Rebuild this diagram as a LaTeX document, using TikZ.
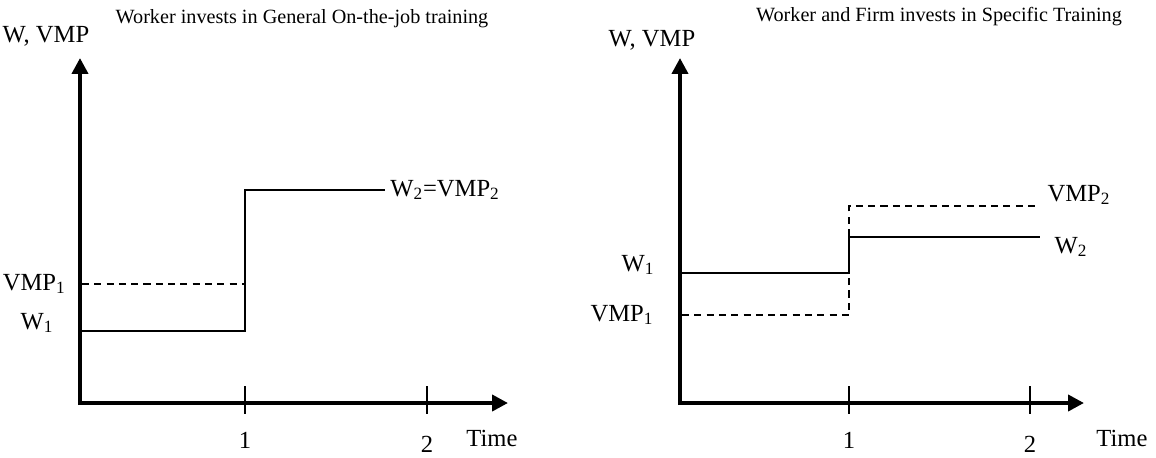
\documentclass[tikz,border=0pt]{standalone}
\usepackage{fontspec}
\setmainfont{Liberation Serif}
\usetikzlibrary{arrows.meta}
\tikzset{
  axis/.style={line width=2.2pt,-{Triangle[length=9pt,width=9pt]}},
  tick/.style={line width=0.8pt},
  wage/.style={line width=0.8pt},
  vmp/.style={line width=0.8pt,dashed,dash pattern=on 4pt off 3pt},
  lbl/.style={font=\fontsize{14}{16}\selectfont,inner sep=0pt},
  ttl/.style={font=\fontsize{11.5}{13}\selectfont,inner sep=0pt}
}
\begin{document}
\begin{tikzpicture}[x=0.02cm,y=-0.02cm]
\useasboundingbox (0,0) rectangle (1156,457);
% general training
\node[ttl] (ttlA) at (302,19) {Worker invests in General On-the-job training};
\node[lbl] (yA) at (46,36) {W, VMP};
\draw[axis] (80,405)--(80,58);
\draw[axis] (78,403)--(508,403);
\foreach \x/\t/\y in {245/1/440,427/2/444}{
\draw[tick] (\x,386)--(\x,414);
\node[lbl] at (\x,\y) {\t};
}
\node[lbl] (timeA) at (492,438) {Time};
\draw[vmp] (82,284)--(245,284);
\draw[wage] (82,331)--(245,331)--(245,190)--(385,190);
\node[lbl,anchor=east] (vmpA) at (66,284) {VMP\textsubscript{1}};
\node[lbl] (wA) at (37,323) {W\textsubscript{1}};
\node[lbl,anchor=west] (wvA) at (390,190) {W\textsubscript{2}=VMP\textsubscript{2}};
% specific training
\node[ttl] (ttlB) at (939,17) {Worker and Firm invests in Specific Training};
\node[lbl] (yB) at (652,40) {W, VMP};
\draw[axis] (680,405)--(680,58);
\draw[axis] (678,403)--(1084,403);
\foreach \x/\t/\y in {849/1/440,1030/2/444}{
\draw[tick] (\x,386)--(\x,414);
\node[lbl] at (\x,\y) {\t};
}
\node[lbl] (timeB) at (1122,438) {Time};
\draw[vmp] (682,315)--(849,315)--(849,206)--(1036,206);
\draw[wage] (682,273)--(849,273)--(849,237)--(1040,237);
\node[lbl] (wB) at (638,265) {W\textsubscript{1}};
\node[lbl] (vmpB) at (622,315) {VMP\textsubscript{1}};
\node[lbl] (vB) at (1079,195) {VMP\textsubscript{2}};
\node[lbl] (w2B) at (1071,247) {W\textsubscript{2}};
\end{tikzpicture}
\end{document}
